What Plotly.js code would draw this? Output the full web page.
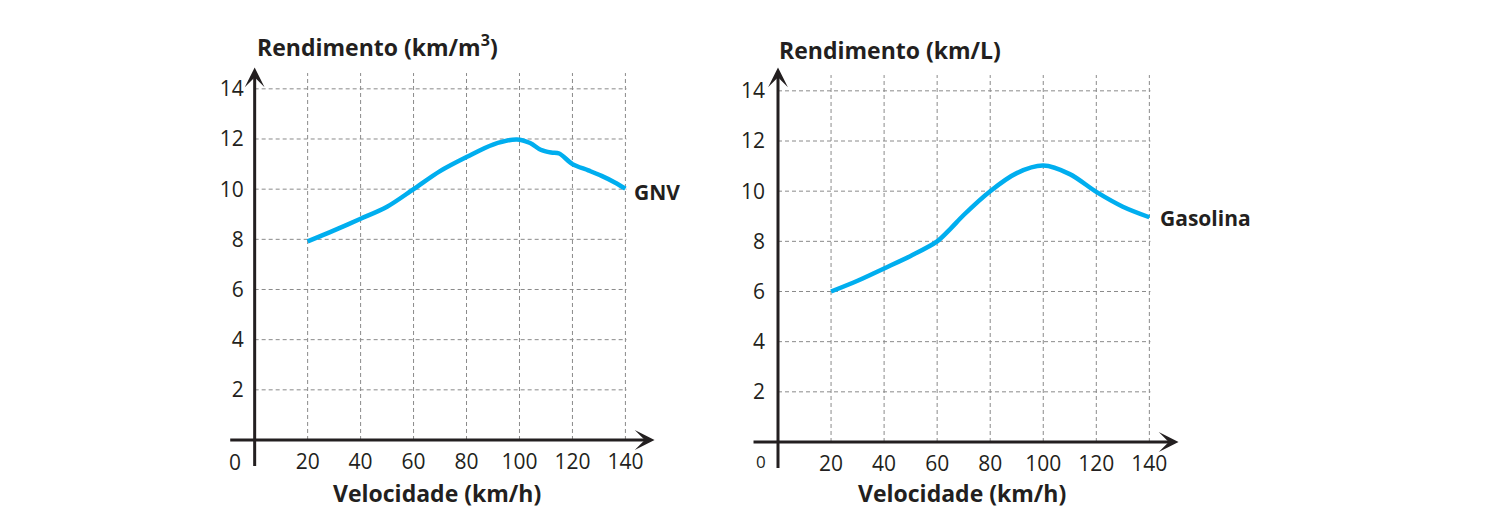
<!DOCTYPE html>
<html>
<head>
<meta charset="utf-8">
<script src="https://cdn.plot.ly/plotly-3.0.1.min.js"></script>
<style>
  html, body { margin: 0; padding: 0; background: #fff; }
  #chart { width: 1490px; height: 530px; }
</style>
</head>
<body>
<div id="chart"></div>
<script>
// GNV curve (km/m3)
const gnvSpeed = [20, 30, 40, 50, 60, 70, 80, 90, 99, 104, 108, 112, 115, 120, 126, 131, 136, 140];
const gnvYield = [7.92, 8.36, 8.82, 9.3, 10.0, 10.72, 11.28, 11.78, 11.98, 11.84, 11.57, 11.46, 11.42, 11.0, 10.75, 10.53, 10.27, 10.02];

// Gasolina curve (km/L)
const gasSpeed = [20, 30, 40, 50, 60, 65, 70, 80, 90, 100, 110, 120, 130, 140];
const gasYield = [6.0, 6.43, 6.92, 7.42, 8.0, 8.5, 9.05, 10.0, 10.72, 11.02, 10.68, 9.97, 9.38, 8.96];

const speedTicks = [20, 40, 60, 80, 100, 120, 140];
const yieldTicks = [2, 4, 6, 8, 10, 12, 14];

const INK = '#231f20';
const BLUE = '#00aeef';
const FONT = 'Open Sans, Noto Sans, sans-serif';

// dashed grid only inside the 0..140 / 0..14 box
function gridShapes(xr, yr) {
  const shapes = [];
  const line = { color: '#8a8a8a', width: 1, dash: '4px,3px' };
  yieldTicks.forEach(v => {
    shapes.push({ type: 'line', xref: xr, yref: yr, x0: 0, x1: 140.4, y0: v, y1: v, line, layer: 'below' });
  });
  speedTicks.forEach(v => {
    shapes.push({ type: 'line', xref: xr, yref: yr, x0: v, x1: v, y0: 0, y1: 14.63, line, layer: 'below' });
  });
  return shapes;
}

// axis lines with arrow heads; tails run a bit past the origin
function axisArrows(xr, yr, xTip, yTip) {
  const common = { showarrow: true, text: '', arrowhead: 3, arrowwidth: 3, arrowsize: 1.1,
    arrowcolor: INK, xref: xr, yref: yr, axref: xr, ayref: yr };
  return [
    Object.assign({ x: 0, y: yTip, ax: 0, ay: -1.1 }, common),
    Object.assign({ x: xTip, y: 0, ax: -9.8, ay: 0 }, common),
  ];
}

const curveLine = { color: BLUE, width: 4.5, shape: 'spline', smoothing: 0.9 };

const traces = [
  { x: gnvSpeed, y: gnvYield, xaxis: 'x', yaxis: 'y', type: 'scatter', mode: 'lines',
    line: curveLine, hoverinfo: 'skip' },
  { x: gasSpeed, y: gasYield, xaxis: 'x2', yaxis: 'y2', type: 'scatter', mode: 'lines',
    line: curveLine, hoverinfo: 'skip' },
];

const tickFont = { family: FONT, size: 21, color: INK };
const xBase = {
  tickmode: 'array', tickvals: speedTicks, ticks: '', showgrid: false, zeroline: false,
  showline: false, tickfont: tickFont, ticklabelstandoff: 7, fixedrange: true,
};
const yBase = {
  tickmode: 'array', tickvals: yieldTicks, ticks: '', showgrid: false, zeroline: false,
  showline: false, tickfont: tickFont, ticklabelstandoff: 10, fixedrange: true,
};

const titleFont = { family: FONT, size: 23, color: INK, weight: 'bold' };
const labelFont = { family: FONT, size: 21, color: INK, weight: 'bold' };

const layout = {
  width: 1490, height: 530,
  margin: { l: 0, r: 0, t: 0, b: 0 },
  paper_bgcolor: '#fff', plot_bgcolor: '#fff',
  showlegend: false,
  xaxis: Object.assign({}, xBase, { domain: [0.17092, 0.44295], range: [0, 153.06] }),
  yaxis: Object.assign({}, yBase, { domain: [0.16981, 0.88302], range: [0, 15.07], anchor: 'x' }),
  xaxis2: Object.assign({}, xBase, { domain: [0.52215, 0.79463], range: [0, 153.06], anchor: 'y2' }),
  yaxis2: Object.assign({}, yBase, { domain: [0.16604, 0.88302], range: [0, 15.15], anchor: 'x2', ticklabelstandoff: 12 }),
  shapes: gridShapes('x', 'y').concat(gridShapes('x2', 'y2')),
  annotations: [
    ...axisArrows('x', 'y', 151, 14.85),
    ...axisArrows('x2', 'y2', 151, 14.93),
    { xref: 'paper', yref: 'paper', x: 0.1711, y: 0.9132, xanchor: 'left', yanchor: 'middle',
      text: 'Rendimento (km/m<sup>3</sup>)', showarrow: false, font: titleFont },
    { xref: 'paper', yref: 'paper', x: 0.5213, y: 0.9057, xanchor: 'left', yanchor: 'middle',
      text: 'Rendimento (km/L)', showarrow: false, font: titleFont },
    { xref: 'paper', yref: 'paper', x: 0.2933, y: 0.0692, xanchor: 'center', yanchor: 'middle',
      text: 'Velocidade (km/h)', showarrow: false, font: titleFont },
    { xref: 'paper', yref: 'paper', x: 0.6454, y: 0.0692, xanchor: 'center', yanchor: 'middle',
      text: 'Velocidade (km/h)', showarrow: false, font: titleFont },
    { xref: 'paper', yref: 'paper', x: 0.1577, y: 0.1289, xanchor: 'center', yanchor: 'middle',
      text: '0', showarrow: false, font: tickFont },
    { xref: 'paper', yref: 'paper', x: 0.5106, y: 0.1289, xanchor: 'center', yanchor: 'middle',
      text: '0', showarrow: false, font: { family: FONT, size: 17, color: INK } },
    { xref: 'x', yref: 'y', x: gnvSpeed[gnvSpeed.length - 1], y: gnvYield[gnvYield.length - 1],
      xanchor: 'left', yanchor: 'middle', xshift: 7, yshift: -3,
      text: 'GNV', showarrow: false, font: labelFont },
    { xref: 'x2', yref: 'y2', x: gasSpeed[gasSpeed.length - 1], y: gasYield[gasYield.length - 1],
      xanchor: 'left', yanchor: 'middle', xshift: 9, yshift: -1,
      text: 'Gasolina', showarrow: false, font: labelFont },
  ],
};

Plotly.newPlot('chart', traces, layout, { displayModeBar: false, staticPlot: true });
</script>
</body>
</html>
